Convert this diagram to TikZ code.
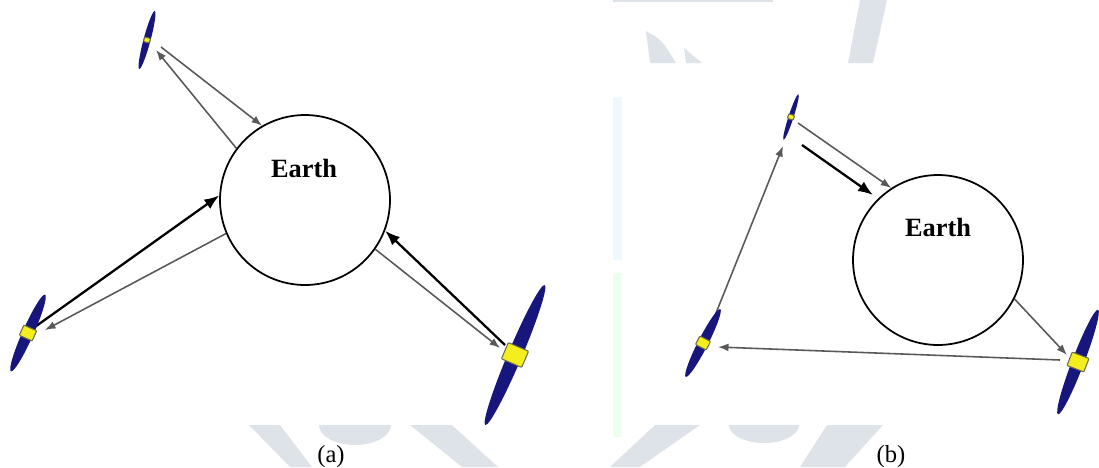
\documentclass[tikz,border=0pt]{standalone}
\usepackage{fontspec}
\setmainfont{Liberation Serif}
\usetikzlibrary{arrows.meta}

\definecolor{panelblue}{RGB}{22,22,125}
\definecolor{bodyyellow}{RGB}{245,238,30}
\definecolor{wmark}{RGB}{222,227,233}

\tikzset{
	planet/.style={circle, draw=black, line width=1pt, fill=white, minimum size=3.4cm, inner sep=0pt},
	planetname/.style={font=\fontsize{15}{18}\selectfont\bfseries},
	caption/.style={font=\fontsize{14}{17}\selectfont},
	link/.style={draw=black!65, line width=0.9pt, -{Latex[length=6pt,width=4.5pt]}},
	boldlink/.style={draw=black, line width=1.3pt, -{Latex[length=8.5pt,width=6.5pt]}},
	% half length / half width of the panel / half size of the body
	pics/satellite/.style args={#1/#2/#3}{code={
		\fill[panelblue] (0,0) ellipse ({#2} and {#1});
		\filldraw[fill=bodyyellow, draw=yellow!35!black, line width=0.6pt, rounded corners=0.5pt]
			(-#3,-0.8*#3) rectangle (#3,0.8*#3);
	}},
}

\begin{document}
\begin{tikzpicture}[x=0.02cm, y=-0.02cm]
	\useasboundingbox (0,0) rectangle (1099,467);
	
	% faint marks in the background
	\fill[wmark] (646,31) .. controls (662,40) .. (676,63) -- (650,63) -- cycle;
	\fill[wmark] (684,48) -- (702,63) -- (686,63) -- cycle;
	\fill[wmark] (860,0) -- (887,0) -- (873,63) -- (848,63) -- cycle;
	\fill[wmark] (613,0) rectangle (773,2);
	\fill[wmark] (249,425) -- (280,425) -- (312,467) -- (290,467) -- cycle;
	\fill[wmark] (319,425) arc[start angle=180, end angle=0, x radius=36, y radius=20] -- cycle;
	\fill[wmark] (410,425) -- (452,425) -- (498,467) -- (462,467) -- cycle;
	\fill[wmark] (655,425) -- (700,425) -- (640,467) -- (610,467) -- cycle;
	\fill[wmark] (729,425) arc[start angle=180, end angle=0, x radius=35, y radius=18] -- cycle;
	\fill[wmark] (827,425) -- (883,425) -- (845,467) -- (800,467) -- cycle;
	\fill[cyan!7] (613,97) rectangle (622,260);
	\fill[green!7] (613,273) rectangle (622,437);
	
	% (a) three satellites around the earth
	\node[planet] (earthA) at (305,200) {};
	\node[planetname] (nameA) at (304,168) {Earth};
	\coordinate (satAt) at (147,40);
	\coordinate (satAl) at (28,333);
	\coordinate (satAr) at (515,355);
	\coordinate (atIn) at (156,50);
	\coordinate (atOut) at (161,47);
	\coordinate (alIn) at (45,330);
	\coordinate (alOut) at (32,329);
	\coordinate (arIn) at (500,348);
	\coordinate (arOut) at (505,345);
	
	\draw[link] (earthA.143) -- (atIn);
	\draw[link] (atOut) -- (earthA.120);
	\draw[link] (earthA.203) -- (alIn);
	\draw[boldlink] (alOut) -- (earthA.177);
	\draw[link] (earthA.-35) -- (arIn);
	\draw[boldlink] (arOut) -- (earthA.-21);
	
	\pic[rotate=-15] at (satAt) {satellite=30/3.5/3};
	\pic[rotate=-24] at (satAl) {satellite=42/5.5/7};
	\pic[rotate=-23] at (satAr) {satellite=76/7/11};
	
	% (b) relay through the satellites
	\node[planet] (earthB) at (938,260) {};
	\node[planetname] (nameB) at (938,227) {Earth};
	\coordinate (satBt) at (791,117);
	\coordinate (satBl) at (703,343);
	\coordinate (satBr) at (1078,362);
	\coordinate (btOut) at (798,123);
	\coordinate (btIn) at (783,146);
	\coordinate (blIn) at (718,347);
	\coordinate (blOut) at (706,338);
	\coordinate (brIn) at (1067,355);
	\coordinate (brOut) at (1060,360);
	\coordinate (downS) at (802,145);
	\coordinate (downE) at (873,195);
	
	\draw[link] (btOut) -- (earthB.123);
	\draw[boldlink] (downS) -- (downE);
	\draw[link] (blOut) -- (btIn);
	\draw[link] (earthB.-27) -- (brIn);
	\draw[link] (brOut) -- (blIn);
	
	\pic[rotate=-18] at (satBt) {satellite=24/2.5/3};
	\pic[rotate=-27] at (satBl) {satellite=38/5/6};
	\pic[rotate=-21] at (satBr) {satellite=56/6/9};
	
	\node[caption] (capA) at (331,457) {(a)};
	\node[caption] (capB) at (891,457) {(b)};
\end{tikzpicture}
\end{document}
